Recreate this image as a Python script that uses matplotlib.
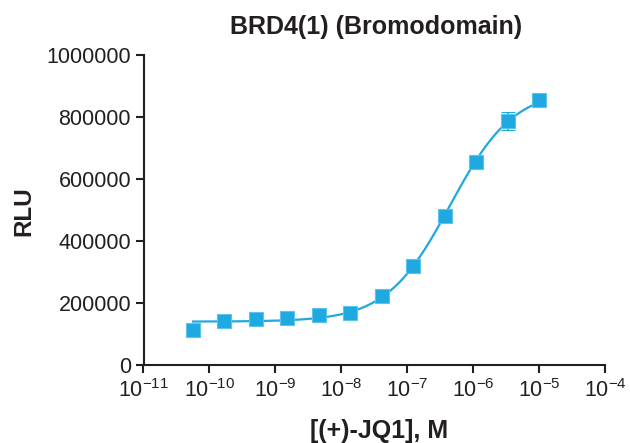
import numpy as np
import matplotlib
matplotlib.use("Agg")
import matplotlib.pyplot as plt

plt.rcParams['font.family'] = ['Liberation Sans', 'DejaVu Sans']
plt.rcParams['mathtext.fontset'] = 'custom'
plt.rcParams['mathtext.rm'] = 'Liberation Sans'
plt.rcParams['mathtext.it'] = 'Liberation Sans'
plt.rcParams['mathtext.bf'] = 'Liberation Sans:bold'

# data
conc = [5.65e-11, 1.69e-10, 5.08e-10, 1.52e-9, 4.57e-9, 1.37e-8,
        4.12e-8, 1.23e-7, 3.70e-7, 1.11e-6, 3.33e-6, 1.0e-5]
rlu = [113000, 143000, 147000, 152000, 160000, 169000,
       223000, 320000, 482000, 656000, 787000, 855000]
err = [4000, 5000, 4000, 4000, 5000, 5000,
       6000, 8000, 9000, 10000, 30000, 8000]

# 4PL fit parameters
bottom, top, log_ec50, hill = 140000, 890000, -6.35, 0.9

title = "BRD4(1) (Bromodomain)"
xlabel = "[(+)-JQ1], M"
ylabel = "RLU"
yticks = [0, 200000, 400000, 600000, 800000, 1000000]
xticks = [1e-11, 1e-10, 1e-9, 1e-8, 1e-7, 1e-6, 1e-5, 1e-4]

color = "#1EA9E1"
ink = "#231F20"

W, H = 630, 443
fig = plt.figure(figsize=(W / 100, H / 100), dpi=100)
L, R, B, T = 143.5, 605, 365, 55
ax = fig.add_axes([L / W, 1 - B / H, (R - L) / W, (B - T) / H])

xs = np.logspace(np.log10(conc[0]), np.log10(conc[-1]), 300)
ys = bottom + (top - bottom) / (1 + 10 ** ((log_ec50 - np.log10(xs)) * hill))
ax.plot(xs, ys, color=color, lw=1.6, zorder=2)
ax.errorbar(conc, rlu, yerr=err, fmt='s', color=color, ms=10,
            mec="#5BC3EC", mew=0.8, ecolor=color, elinewidth=1.2,
            capsize=5, capthick=1.2, zorder=3, clip_on=False)

ax.set_xscale('log')
ax.set_xlim(1e-11, 1e-4)
ax.set_ylim(0, 1000000)
ax.set_xticks(xticks)
ax.set_xticklabels([r"$10^{%d}$" % int(np.log10(t)) for t in xticks])
ax.minorticks_off()
ax.set_yticks(yticks)
ax.set_yticklabels([str(v) for v in yticks])

for s in ['top', 'right']:
    ax.spines[s].set_visible(False)
for s in ['left', 'bottom']:
    ax.spines[s].set_linewidth(1.5)
    ax.spines[s].set_color(ink)
ax.tick_params(axis='both', direction='out', length=6, width=1.5,
               color=ink, labelsize=15.5, labelcolor=ink)
ax.tick_params(axis='y', pad=3)
ax.tick_params(axis='x', pad=4)

fig.text(376 / W, 1 - 27 / H, title, ha='center', va='center', fontsize=18,
         fontweight='bold', color=ink)
ax.set_xlabel(xlabel, fontsize=18, fontweight='bold', color=ink, va='center')
ax.xaxis.set_label_coords((379 - L) / (R - L), (B - 431) / (B - T))
ax.set_ylabel(ylabel, fontsize=17.5, fontweight='bold', color=ink, va='center')
ax.yaxis.set_label_coords((24 - L) / (R - L), (B - 211) / (B - T))

fig.savefig("out.png", dpi=100)
